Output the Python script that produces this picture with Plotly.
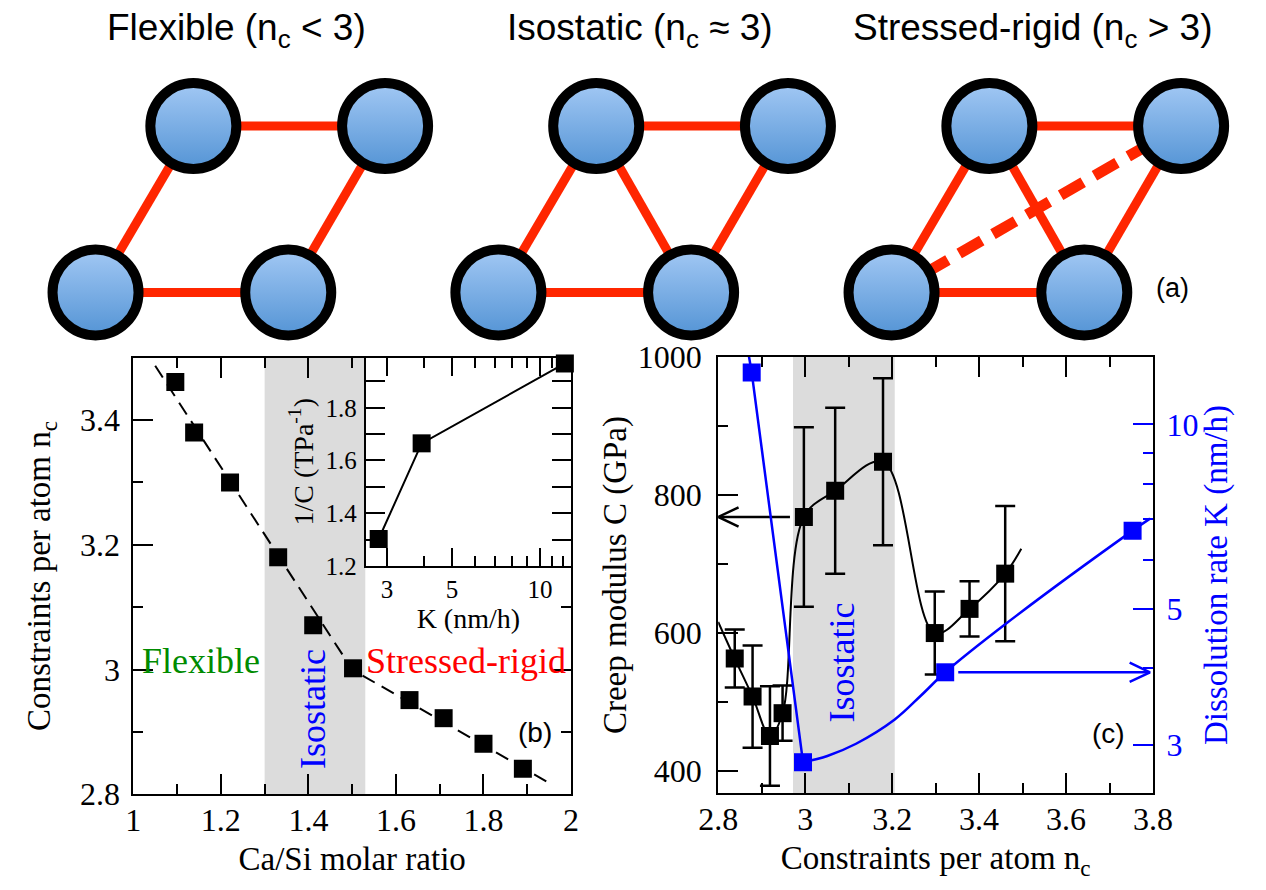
import math
import plotly.graph_objects as go

W, H = 1266, 890
SERIF = "Liberation Serif, Times New Roman, serif"
SANS = "Liberation Sans, Arial, Helvetica, sans-serif"
BLUE = "#0000ff"
GREEN = "#008b00"
RED_TXT = "#ff0000"
BOND = "#ff2600"
SHADE = "#dcdcdc"

# ---------------- data ----------------
# panel (b): Ca/Si ratio vs constraints per atom
ca_si = [1.096, 1.139, 1.221, 1.331, 1.411, 1.502, 1.631, 1.709, 1.800, 1.890]
nc_b = [3.461, 3.380, 3.300, 3.180, 3.071, 3.002, 2.951, 2.922, 2.881, 2.841]
fit_ca_si = [1.05, 1.50, 1.948]
fit_nc = [3.487, 3.000, 2.819]
iso_b = [1.30, 1.53]

# inset: 1/C vs K
inset_K = [2.81, 3.94, 12.16]
inset_invC = [1.302, 1.665, 1.968]

# panel (c): creep modulus and dissolution rate vs n_c
nc_c = [2.838, 2.879, 2.919, 2.948, 2.997, 3.069, 3.179, 3.298, 3.378, 3.460]
creep_C = [563, 508, 451, 484, 768, 806, 848, 600, 635, 686]
creep_err = [42, 74, 72, 40, 130, 120, 121, 60, 40, 98]
creep_curve_nc = [2.80] + nc_c + [3.497]
creep_curve_C = [616] + creep_C + [722]
diss_nc = [2.877, 2.995, 3.322, 3.753]
diss_K = [12.16, 2.81, 3.94, 6.71]
diss_curve_nc = [2.870, 2.877, 2.995, 3.051, 3.117, 3.206, 3.267, 3.322, 3.460, 3.753, 3.793]
diss_curve_K = [13.0, 12.16, 2.81, 2.877, 3.012, 3.299, 3.614, 3.94, 4.72, 6.71, 7.02]
iso_c = [2.972, 3.206]

# panel (a): network schematics (node order: BL, BR, TL, TR)
node_dx = [0, 199, 101, 299]
node_dy = [0, 0, 173.5, 173.5]
diagram_x0 = [78, 494, 900]
bonds = [
    [(0, 1), (2, 3), (0, 2), (1, 3)],
    [(0, 1), (2, 3), (0, 2), (1, 3), (2, 1)],
    [(0, 1), (2, 3), (0, 2), (1, 3), (2, 1)],
]
dashed_bonds = [[], [], [(0, 3)]]
titles_a = [
    "Flexible (n<sub>c</sub> &lt; 3)",
    "Isostatic (n<sub>c</sub> ≈ 3)",
    "Stressed-rigid (n<sub>c</sub> &gt; 3)",
]

# ---------------- layout geometry ----------------
def px_dom(x0, x1):
    return [x0 / W, x1 / W]


def py_dom(ytop, ybot):
    return [1 - ybot / H, 1 - ytop / H]


DOM_B_X, DOM_B_Y = px_dom(117, 569), py_dom(354, 809)
DOM_IN_X, DOM_IN_Y = px_dom(357, 569), py_dom(354, 571)
DOM_C_X, DOM_C_Y = px_dom(721, 1170), py_dom(353, 808)
DOM_A_Y = py_dom(0, 340)

RANGE_B_X, RANGE_B_Y = [1, 2], [2.8, 3.5]
RANGE_IN_X, RANGE_IN_Y = [0.4044, 1.106], [1.2, 1.99]
RANGE_C_X, RANGE_C_Y = [2.8, 3.8], [368, 1000]
RANGE_C_Y2 = [math.log10(2.5), math.log10(12.9)]
RANGE_A_X, RANGE_A_Y = [0, W], [-54, 286]

fig = go.Figure()

# ---------------- panel (a) ----------------
bx, by, dxs, dys = [], [], [], []
nx, ny = [], []
for d, x0 in enumerate(diagram_x0):
    for i, j in bonds[d]:
        bx += [x0 + node_dx[i], x0 + node_dx[j], None]
        by += [node_dy[i], node_dy[j], None]
    for i, j in dashed_bonds[d]:
        dxs += [x0 + node_dx[i], x0 + node_dx[j], None]
        dys += [node_dy[i], node_dy[j], None]
    for k in range(4):
        nx.append(x0 + node_dx[k])
        ny.append(node_dy[k])

fig.add_trace(go.Scatter(x=bx, y=by, mode="lines", xaxis="x5", yaxis="y5",
                         line=dict(color=BOND, width=9), hoverinfo="skip"))
fig.add_trace(go.Scatter(x=dxs, y=dys, mode="lines", xaxis="x5", yaxis="y5",
                         line=dict(color=BOND, width=11, dash="26px,13px"), hoverinfo="skip"))
fig.add_trace(go.Scatter(x=nx, y=ny, mode="markers", xaxis="x5", yaxis="y5", cliponaxis=False,
                         marker=dict(symbol="circle", size=86, color="#a2c8f4",
                                     gradient=dict(type="vertical", color="#5494d5"),
                                     line=dict(color="black", width=10))))

# ---------------- panel (b) ----------------
fig.add_trace(go.Scatter(x=fit_ca_si, y=fit_nc, mode="lines", xaxis="x", yaxis="y",
                         line=dict(color="black", width=2, dash="14px,8px")))
fig.add_trace(go.Scatter(x=ca_si, y=nc_b, mode="markers", xaxis="x", yaxis="y",
                         marker=dict(symbol="square", size=18, color="black")))

# inset
fig.add_trace(go.Scatter(x=inset_K, y=inset_invC, mode="lines+markers", xaxis="x2", yaxis="y2",
                         cliponaxis=False,
                         line=dict(color="black", width=2),
                         marker=dict(symbol="square", size=18, color="black")))

# ---------------- panel (c) ----------------
fig.add_trace(go.Scatter(x=creep_curve_nc, y=creep_curve_C, mode="lines", xaxis="x3", yaxis="y3",
                         line=dict(color="black", width=2, shape="spline", smoothing=1.0)))
fig.add_trace(go.Scatter(x=nc_c, y=creep_C, mode="markers", xaxis="x3", yaxis="y3",
                         marker=dict(symbol="square", size=18, color="black"),
                         error_y=dict(type="data", array=creep_err, visible=True,
                                      color="black", thickness=2.5, width=10)))

# black arrow (points to left axis) - head size derived from axis scale
cx_ppu = (DOM_C_X[1] - DOM_C_X[0]) * W / (RANGE_C_X[1] - RANGE_C_X[0])
cy_ppu = (DOM_C_Y[1] - DOM_C_Y[0]) * H / (RANGE_C_Y[1] - RANGE_C_Y[0])
cy2_ppd = (DOM_C_Y[1] - DOM_C_Y[0]) * H / (RANGE_C_Y2[1] - RANGE_C_Y2[0])
HEAD_DX, HEAD_DY = 21, 10  # px

y_arr = creep_C[4]
tip = RANGE_C_X[0]
start = nc_c[4] - 0.032
hx = HEAD_DX / cx_ppu
hy = HEAD_DY / cy_ppu
fig.add_trace(go.Scatter(
    x=[start, tip, None, tip + hx, tip, tip + hx],
    y=[y_arr, y_arr, None, y_arr + hy, y_arr, y_arr - hy],
    mode="lines", xaxis="x3", yaxis="y3", line=dict(color="black", width=2.5)))

# blue dissolution curve
fig.add_trace(go.Scatter(x=diss_curve_nc[:3], y=diss_curve_K[:3], mode="lines", xaxis="x3", yaxis="y4",
                         line=dict(color=BLUE, width=2.5)))
fig.add_trace(go.Scatter(x=diss_curve_nc[2:], y=diss_curve_K[2:], mode="lines", xaxis="x3", yaxis="y4",
                         line=dict(color=BLUE, width=2.5, shape="spline", smoothing=1.0)))
fig.add_trace(go.Scatter(x=diss_nc, y=diss_K, mode="markers", xaxis="x3", yaxis="y4",
                         marker=dict(symbol="square", size=18, color=BLUE)))

# blue arrow (points to right axis)
k_arr = diss_K[2]
b_start = diss_nc[2] + 0.030
b_tip = RANGE_C_X[1] - 0.007
f = 10 ** (HEAD_DY / cy2_ppd)
fig.add_trace(go.Scatter(
    x=[b_start, b_tip, None, b_tip - hx, b_tip, b_tip - hx],
    y=[k_arr, k_arr, None, k_arr * f, k_arr, k_arr / f],
    mode="lines", xaxis="x3", yaxis="y4", line=dict(color=BLUE, width=2.5)))

# ---------------- axes ----------------
def axis(**kw):
    base = dict(showline=True, linewidth=2, linecolor="black", ticks="inside", tickwidth=2,
                tickcolor="black", showgrid=False, zeroline=False,
                tickfont=dict(family=SERIF, size=32, color="black"))
    base.update(kw)
    return base


def minor(**kw):
    base = dict(ticks="inside", tickwidth=2, tickcolor="black", showgrid=False)
    base.update(kw)
    return base


TITLE_FONT = dict(family=SERIF, size=33, color="black")

fig.update_layout(
    width=W, height=H, margin=dict(l=0, r=0, t=0, b=0),
    paper_bgcolor="white", plot_bgcolor="white", showlegend=False,
    xaxis=axis(domain=DOM_B_X, range=RANGE_B_X, anchor="y", tick0=1, dtick=0.2, ticklen=20,
               mirror="ticks", minor=minor(dtick=0.1, ticklen=10), ticklabelstandoff=-4,
               title=dict(text="Ca/Si molar ratio", font=TITLE_FONT, standoff=10)),
    yaxis=axis(domain=DOM_B_Y, range=RANGE_B_Y, anchor="x", tick0=2.8, dtick=0.2, ticklen=20,
               mirror="ticks", minor=minor(dtick=0.1, ticklen=10), ticklabelstandoff=5,
               title=dict(text="Constraints per atom n<sub>c</sub>", font=TITLE_FONT, standoff=19)),
    xaxis2=axis(domain=DOM_IN_X, range=RANGE_IN_X, anchor="y2", type="log",
                tickvals=[3, 5, 10], ticktext=["3", "5", "10"], ticklen=18, mirror="ticks",
                tickfont=dict(family=SERIF, size=25, color="black"),
                minor=minor(tickmode="array", tickvals=[4, 6, 7, 8, 9, 11, 12], ticklen=10),
                title=dict(text="K (nm/h)", font=dict(family=SERIF, size=28, color="black"),
                           standoff=4)),
    yaxis2=axis(domain=DOM_IN_Y, range=RANGE_IN_Y, anchor="x2", tick0=1.2, dtick=0.2, ticklen=19,
                mirror="ticks", tickfont=dict(family=SERIF, size=25, color="black"),
                minor=minor(dtick=0.1, ticklen=19), ticklabelstandoff=2,
                title=dict(text="1/C (TPa<sup>-1</sup>)", font=dict(family=SERIF, size=28, color="black"),
                           standoff=4)),
    xaxis3=axis(domain=DOM_C_X, range=RANGE_C_X, anchor="y3", tick0=2.8, dtick=0.2, ticklen=20,
                mirror="ticks", minor=minor(dtick=0.1, ticklen=10), ticklabelstandoff=-4,
                title=dict(text="Constraints per atom n<sub>c</sub>", font=TITLE_FONT, standoff=10)),
    yaxis3=axis(domain=DOM_C_Y, range=RANGE_C_Y, anchor="x3", tick0=400, dtick=200, ticklen=20,
                minor=minor(dtick=100, ticklen=10), ticklabelstandoff=8,
                title=dict(text="Creep modulus C (GPa)", font=TITLE_FONT, standoff=1)),
    yaxis4=axis(overlaying="y3", side="right", anchor="x3", type="log", range=RANGE_C_Y2,
                tickvals=[3, 5, 10], ticktext=["3", "5", "10"], ticklen=20, tickcolor=BLUE,
                tickfont=dict(family=SERIF, size=32, color=BLUE), ticklabelstandoff=5,
                minor=minor(tickmode="array", tickvals=[4, 6, 7, 8, 9], ticklen=10, tickcolor=BLUE),
                title=dict(text="Dissolution rate K (nm/h)",
                           font=dict(family=SERIF, size=33, color=BLUE), standoff=6)),
    xaxis5=dict(domain=[0, 1], range=RANGE_A_X, anchor="y5", visible=False, fixedrange=True),
    yaxis5=dict(domain=DOM_A_Y, range=RANGE_A_Y, anchor="x5", visible=False, fixedrange=True),
)

# shaded isostatic regions
fig.add_shape(type="rect", xref="x", yref="y domain", x0=iso_b[0], x1=iso_b[1], y0=0, y1=1,
              fillcolor=SHADE, line_width=0, layer="below")
fig.add_shape(type="rect", xref="x3", yref="y3 domain", x0=iso_c[0], x1=iso_c[1], y0=0, y1=1,
              fillcolor=SHADE, line_width=0, layer="below")

# ---------------- annotations ----------------
for d, x0 in enumerate(diagram_x0):
    fig.add_annotation(x=x0 + 146, y=274, xref="x5", yref="y5", text=titles_a[d], showarrow=False,
                       font=dict(family=SANS, size=37, color="black"), xanchor="center", yanchor="middle")
fig.add_annotation(x=1190, y=5, xref="x5", yref="y5", text="(a)", showarrow=False,
                   font=dict(family=SANS, size=27, color="black"))

fig.add_annotation(x=1.154, y=3.013, xref="x", yref="y", text="Flexible", showarrow=False,
                   font=dict(family=SERIF, size=36, color=GREEN))
fig.add_annotation(x=1.761, y=3.013, xref="x", yref="y", text="Stressed-rigid", showarrow=False,
                   font=dict(family=SERIF, size=36, color=RED_TXT))
fig.add_annotation(x=1.411, y=2.937, xref="x", yref="y", text="Isostatic", showarrow=False,
                   textangle=-90, font=dict(family=SERIF, size=36, color=BLUE))
fig.add_annotation(x=1.918, y=2.899, xref="x", yref="y", text="(b)", showarrow=False,
                   font=dict(family=SANS, size=28, color="black"))

fig.add_annotation(x=3.084, y=557, xref="x3", yref="y3", text="Isostatic", showarrow=False,
                   textangle=-90, font=dict(family=SERIF, size=36, color=BLUE))
fig.add_annotation(x=3.697, y=455, xref="x3", yref="y3", text="(c)", showarrow=False,
                   font=dict(family=SANS, size=28, color="black"))

fig.write_html("out.html")
